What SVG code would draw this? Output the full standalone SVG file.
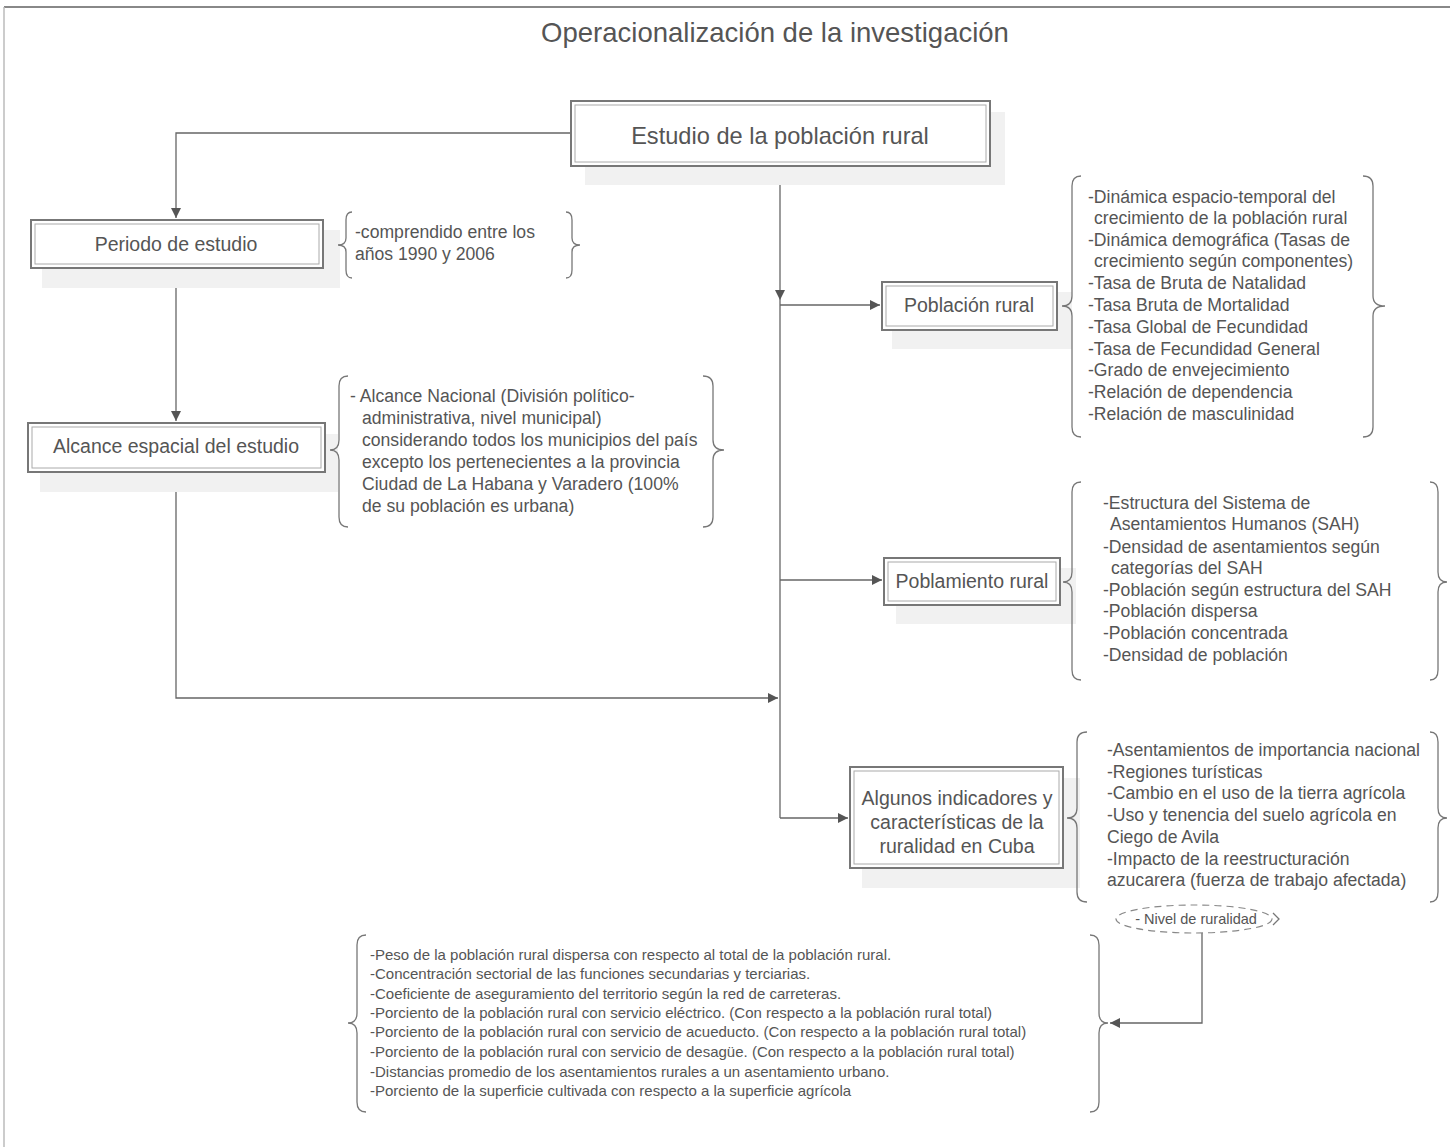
<svg xmlns="http://www.w3.org/2000/svg" width="1450" height="1147" viewBox="0 0 1450 1147">
<defs>
<marker id="ah" viewBox="0 0 10 10" refX="10" refY="5" markerWidth="14" markerHeight="10" markerUnits="userSpaceOnUse" orient="auto">
<path d="M0,0 L10,5 L0,10 z" fill="#555"/>
</marker>
</defs>
<style>
text{font-family:"Liberation Sans",Arial,sans-serif;fill:#555}
.box{fill:#fff;stroke:#777;stroke-width:2}
.inner{fill:none;stroke:#aaa;stroke-width:1}
.shadow{fill:#f1f1f1}
.con{fill:none;stroke:#666;stroke-width:1.3}
.brace{fill:none;stroke:#777;stroke-width:1.3}
.lbl{font-size:19.5px;text-anchor:middle}
.big{font-size:23.6px}
.lst{font-size:17.6px}
.sm{font-size:15px}
</style>
<rect width="1450" height="1147" fill="#fff"/>
<line x1="4" y1="7" x2="1450" y2="7" stroke="#888" stroke-width="2"/>
<line x1="4" y1="7" x2="4" y2="1147" stroke="#bbb" stroke-width="1.5"/>
<text x="775" y="42" font-size="27.5" text-anchor="middle">Operacionalización de la investigación</text>

<g id="connectors">
<path class="con" d="M571,133 H176 V218" marker-end="url(#ah)"/>
<path class="con" d="M176,268 V421" marker-end="url(#ah)"/>
<path class="con" d="M176,472 V698 H778" marker-end="url(#ah)"/>
<path class="con" d="M780,166 V300" marker-end="url(#ah)"/>
<path class="con" d="M780,300 V818"/>
<path class="con" d="M780,305 H880" marker-end="url(#ah)"/>
<path class="con" d="M780,580 H882" marker-end="url(#ah)"/>
<path class="con" d="M780,818 H848" marker-end="url(#ah)"/>
<path class="con" d="M1202,933 V1023 H1110" marker-end="url(#ah)"/>
</g>

<g id="n-estudio">
<rect class="shadow" x="585" y="112" width="420" height="73"/>
<rect class="box" x="571" y="101" width="419" height="65"/>
<rect class="inner" x="575" y="105" width="411" height="57"/>
<text class="lbl big" x="780" y="144">Estudio de la población rural</text>
</g>

<g id="n-periodo">
<rect class="shadow" x="42" y="230" width="298" height="58"/>
<rect class="box" x="31" y="220" width="292" height="48"/>
<rect class="inner" x="35" y="224" width="284" height="40"/>
<text class="lbl" x="176" y="251">Periodo de estudio</text>
</g>
<g id="b-periodo">
<path class="brace" d="M352,212 Q346,212 346,220 V238 Q346,245 338,245 Q346,245 346,252 V270 Q346,278 352,278"/>
<path class="brace" d="M566,212 Q572,212 572,220 V238 Q572,245 580,245 Q572,245 572,252 V270 Q572,278 566,278"/>
<text class="lst" x="355" y="238">-comprendido entre los</text>
<text class="lst" x="355" y="260">años 1990 y 2006</text>
</g>

<g id="n-alcance">
<rect class="shadow" x="40" y="434" width="298" height="58"/>
<rect class="box" x="28" y="423" width="297" height="49"/>
<rect class="inner" x="32" y="427" width="289" height="41"/>
<text class="lbl" x="176" y="453">Alcance espacial del estudio</text>
</g>
<g id="b-alcance">
<path class="brace" d="M348,376 Q339,376 339,386 V440 Q339,450 330,450 Q339,450 339,460 V517 Q339,527 348,527"/>
<path class="brace" d="M703,376 Q713,376 713,386 V440 Q713,450 724,450 Q713,450 713,460 V517 Q713,527 703,527"/>
<text class="lst" x="350" y="402">- Alcance Nacional (División político-</text>
<text class="lst" x="362" y="424">administrativa, nivel municipal)</text>
<text class="lst" x="362" y="446">considerando todos los municipios del país</text>
<text class="lst" x="362" y="468">excepto los pertenecientes a la provincia</text>
<text class="lst" x="362" y="490">Ciudad de La Habana y Varadero (100%</text>
<text class="lst" x="362" y="512">de su población es urbana)</text>
</g>

<g id="n-poblacion">
<rect class="shadow" x="892" y="292" width="180" height="57"/>
<rect class="box" x="882" y="282" width="175" height="48"/>
<rect class="inner" x="886" y="286" width="167" height="40"/>
<text class="lbl" x="969" y="312">Población rural</text>
</g>
<g id="b-poblacion">
<path class="brace" d="M1081,176 Q1072,176 1072,186 V296 Q1072,306 1062,306 Q1072,306 1072,316 V427 Q1072,437 1081,437"/>
<path class="brace" d="M1363,176 Q1373,176 1373,186 V296 Q1373,306 1385,306 Q1373,306 1373,316 V427 Q1373,437 1363,437"/>
<text class="lst" x="1088" y="203">-Dinámica espacio-temporal del</text>
<text class="lst" x="1094" y="224">crecimiento de la población rural</text>
<text class="lst" x="1088" y="246">-Dinámica demográfica (Tasas de</text>
<text class="lst" x="1094" y="267">crecimiento según componentes)</text>
<text class="lst" x="1088" y="289">-Tasa de Bruta de Natalidad</text>
<text class="lst" x="1088" y="311">-Tasa Bruta de Mortalidad</text>
<text class="lst" x="1088" y="333">-Tasa Global de Fecundidad</text>
<text class="lst" x="1088" y="355">-Tasa de Fecundidad General</text>
<text class="lst" x="1088" y="376">-Grado de envejecimiento</text>
<text class="lst" x="1088" y="398">-Relación de dependencia</text>
<text class="lst" x="1088" y="420">-Relación de masculinidad</text>
</g>

<g id="n-poblamiento">
<rect class="shadow" x="896" y="568" width="180" height="56"/>
<rect class="box" x="884" y="558" width="176" height="47"/>
<rect class="inner" x="888" y="562" width="168" height="39"/>
<text class="lbl" x="972" y="588">Poblamiento rural</text>
</g>
<g id="b-poblamiento">
<path class="brace" d="M1081,482 Q1072,482 1072,492 V572 Q1072,582 1063,582 Q1072,582 1072,592 V670 Q1072,680 1081,680"/>
<path class="brace" d="M1430,482 Q1438,482 1438,492 V572 Q1438,582 1447,582 Q1438,582 1438,592 V670 Q1438,680 1430,680"/>
<text class="lst" x="1103" y="509">-Estructura del Sistema de</text>
<text class="lst" x="1110" y="530">Asentamientos Humanos (SAH)</text>
<text class="lst" x="1103" y="553">-Densidad de asentamientos según</text>
<text class="lst" x="1111" y="574">categorías del SAH</text>
<text class="lst" x="1103" y="596">-Población según estructura del SAH</text>
<text class="lst" x="1103" y="617">-Población dispersa</text>
<text class="lst" x="1103" y="639">-Población concentrada</text>
<text class="lst" x="1103" y="661">-Densidad de población</text>
</g>

<g id="n-algunos">
<rect class="shadow" x="862" y="778" width="218" height="110"/>
<rect class="box" x="850" y="767" width="213" height="101"/>
<rect class="inner" x="854" y="771" width="205" height="93"/>
<text class="lbl" x="957" y="805">Algunos indicadores y</text>
<text class="lbl" x="957" y="829">características de la</text>
<text class="lbl" x="957" y="853">ruralidad en Cuba</text>
</g>
<g id="b-algunos">
<path class="brace" d="M1087,732 Q1077,732 1077,742 V808 Q1077,818 1067,818 Q1077,818 1077,828 V892 Q1077,902 1087,902"/>
<path class="brace" d="M1430,732 Q1438,732 1438,742 V808 Q1438,818 1447,818 Q1438,818 1438,828 V892 Q1438,902 1430,902"/>
<text class="lst" x="1107" y="756">-Asentamientos de importancia nacional</text>
<text class="lst" x="1107" y="778">-Regiones turísticas</text>
<text class="lst" x="1107" y="799">-Cambio en el uso de la tierra agrícola</text>
<text class="lst" x="1107" y="821">-Uso y tenencia del suelo agrícola en</text>
<text class="lst" x="1107" y="843">Ciego de Avila</text>
<text class="lst" x="1107" y="865">-Impacto de la reestructuración</text>
<text class="lst" x="1107" y="886">azucarera (fuerza de trabajo afectada)</text>
</g>

<g id="n-nivel">
<ellipse cx="1194" cy="919" rx="78" ry="14" fill="none" stroke="#888" stroke-width="1.2" stroke-dasharray="7,5"/>
<path class="brace" d="M1273,913 L1279,919 L1273,925"/>
<text x="1196" y="924" font-size="14.5" text-anchor="middle">- Nivel de ruralidad</text>
</g>

<g id="b-bottom">
<path class="brace" d="M366,935 Q357,935 357,945 V1013 Q357,1023 348,1023 Q357,1023 357,1033 V1102 Q357,1112 366,1112"/>
<path class="brace" d="M1090,935 Q1099,935 1099,945 V1013 Q1099,1023 1108,1023 Q1099,1023 1099,1033 V1102 Q1099,1112 1090,1112"/>
<text class="sm" x="370" y="960">-Peso de la población rural dispersa con respecto al total de la población rural.</text>
<text class="sm" x="370" y="979">-Concentración sectorial de las funciones secundarias y terciarias.</text>
<text class="sm" x="370" y="999">-Coeficiente de aseguramiento del territorio según la red de carreteras.</text>
<text class="sm" x="370" y="1018">-Porciento de la población rural con servicio eléctrico. (Con respecto a la población rural total)</text>
<text class="sm" x="370" y="1037">-Porciento de la población rural con servicio de acueducto. (Con respecto a la población rural total)</text>
<text class="sm" x="370" y="1057">-Porciento de la población rural con servicio de desagüe. (Con respecto a la población rural total)</text>
<text class="sm" x="370" y="1077">-Distancias promedio de los asentamientos rurales a un asentamiento urbano.</text>
<text class="sm" x="370" y="1096">-Porciento de la superficie cultivada con respecto a la superficie agrícola</text>
</g>
</svg>
